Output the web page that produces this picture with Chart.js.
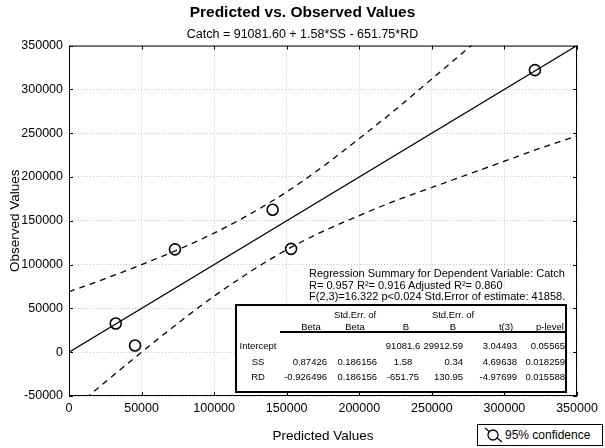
<!DOCTYPE html>
<html>
<head>
<meta charset="utf-8">
<title>Predicted vs. Observed Values</title>
<script src="https://cdn.jsdelivr.net/npm/chart.js@4.4.1/dist/chart.umd.min.js"></script>
<style>
  body { margin: 0; background: #fff; }
  #wrap { position: relative; width: 605px; height: 448px; font-family: "Liberation Sans", Arial, sans-serif; color: #000; }
  #chart { position: absolute; left: 0; top: 0; }
  .txt { position: absolute; white-space: nowrap; line-height: 12px; }
  #summary { position: absolute; left: 0; top: 0; font-size: 11px; }
  #table { position: absolute; left: 235px; top: 304px; width: 328px; height: 85px; border: 2px solid #000; background: #fff; font-size: 9.5px; }
  #rule { position: absolute; height: 2px; background: #000; }
  #legend { position: absolute; left: 477px; top: 424px; width: 124px; height: 20px; border: 1px solid #000; background: #fff; font-size: 12px; }
  #legend svg { position: absolute; left: 6px; top: 2px; }
  #legend span { position: absolute; left: 27px; top: 3px; line-height: 14px; }
</style>
</head>
<body>
<div id="wrap">
  <canvas id="chart" width="605" height="448"></canvas>
  <div id="summary"></div>
  <div id="table"><div id="rule"></div></div>
  <div id="legend">
    <svg width="20" height="16"><line x1="1" y1="1" x2="18" y2="15" stroke="#000" stroke-width="1.2"/><circle cx="9" cy="8" r="5" fill="#fff" stroke="#000" stroke-width="1.3"/></svg>
    <span>95% confidence</span>
  </div>
</div>
<script>
// observed vs predicted catch
const predicted = [32200, 45500, 73000, 140300, 153000, 321000];
const observed = [32800, 7700, 117400, 162600, 118000, 322000];

// fitted line
const fitX = [0, 350000];
const fitY = [0, 350000];

// 95% confidence band
const bandX = [0, 25000, 50000, 75000, 100000, 125000, 150000, 175000, 200000, 225000, 250000, 275000, 300000, 325000, 350000];
const upperBand = [69000, 84000, 100000, 117000, 136000, 158000, 183000, 212000, 244000, 277000, 312000, 347000, 382000, 417000, 453000];
const lowerBand = [-69000, -34000, 0, 33000, 64000, 92000, 117000, 138000, 156000, 173000, 188000, 203000, 218000, 233000, 247000];

const xTicks = [0, 50000, 100000, 150000, 200000, 250000, 300000, 350000];

// regression summary table
const summaryLines = [
  'Regression Summary for Dependent Variable: Catch',
  'R= 0.957 R\u00b2= 0.916 Adjusted R\u00b2= 0.860',
  'F(2,3)=16.322 p<0.024 Std.Error of estimate: 41858.'
];
const headTop = ['', 'Std.Err. of', '', 'Std.Err. of', '', ''];
const headBottom = ['Beta', 'Beta', 'B', 'B', 't(3)', 'p-level'];
const rowNames = ['Intercept', 'SS', 'RD'];
const betaCol = ['', '0.87426', '-0.926496'];
const seBetaCol = ['', '0.186156', '0.186156'];
const bCol = ['91081.6', '1.58', '-651.75'];
const seBCol = ['29912.59', '0.34', '130.95'];
const tCol = ['3.04493', '4.69638', '-4.97699'];
const pCol = ['0.05565', '0.018259', '0.015588'];

function pairs(xs, ys) {
  return xs.map((x, i) => ({ x: x, y: ys[i] }));
}

Chart.defaults.font.family = '"Liberation Sans", Arial, sans-serif';
Chart.defaults.color = '#000';

// full black frame with inward tick marks
const framePlugin = {
  id: 'frame',
  afterDatasetsDraw(chart) {
    const { ctx, chartArea: a, scales } = chart;
    ctx.save();
    ctx.strokeStyle = '#000';
    ctx.lineWidth = 1;
    ctx.strokeRect(a.left + 0.5, a.top + 0.5, a.width - 1, a.height - 1);
    ctx.beginPath();
    scales.x.ticks.forEach(t => {
      const x = Math.round(scales.x.getPixelForValue(t.value)) + 0.5;
      ctx.moveTo(x, a.bottom); ctx.lineTo(x, a.bottom - 4);
      ctx.moveTo(x, a.top); ctx.lineTo(x, a.top + 4);
    });
    scales.y.ticks.forEach(t => {
      const y = Math.round(scales.y.getPixelForValue(t.value)) + 0.5;
      ctx.moveTo(a.left, y); ctx.lineTo(a.left + 4, y);
      ctx.moveTo(a.right, y); ctx.lineTo(a.right - 4, y);
    });
    ctx.stroke();
    ctx.restore();
  }
};

new Chart(document.getElementById('chart'), {
  type: 'scatter',
  data: {
    datasets: [{
      label: 'Observed',
      data: pairs(predicted, observed),
      pointStyle: 'circle',
      pointRadius: 5.5,
      pointBorderWidth: 1.6,
      borderColor: '#000',
      backgroundColor: 'rgba(0,0,0,0)',
      showLine: false
    }, {
      label: 'Fit',
      data: pairs(fitX, fitY),
      showLine: true,
      pointRadius: 0,
      borderColor: '#000',
      borderWidth: 1.3,
      clip: 0
    }, {
      label: 'Upper 95%',
      data: pairs(bandX, upperBand),
      showLine: true,
      pointRadius: 0,
      borderColor: '#000',
      borderWidth: 1.3,
      borderDash: [6, 5],
      cubicInterpolationMode: 'monotone',
      clip: 0
    }, {
      label: 'Lower 95%',
      data: pairs(bandX, lowerBand),
      showLine: true,
      pointRadius: 0,
      borderColor: '#000',
      borderWidth: 1.3,
      borderDash: [6, 5],
      cubicInterpolationMode: 'monotone',
      clip: 0
    }]
  },
  options: {
    responsive: false,
    animation: false,
    layout: { padding: 0 },
    plugins: {
      legend: { display: false },
      tooltip: { enabled: false },
      title: {
        display: true,
        text: 'Predicted vs. Observed Values',
        font: { size: 15.5, weight: 'bold' },
        padding: { top: 3, bottom: 4 }
      },
      subtitle: {
        display: true,
        text: 'Catch = 91081.60 + 1.58*SS - 651.75*RD',
        font: { size: 12.5 },
        padding: { top: 1, bottom: 4 }
      }
    },
    scales: {
      x: {
        type: 'linear',
        min: 0,
        max: 350000,
        afterBuildTicks: s => { s.ticks = xTicks.map(v => ({ value: v })); },
        ticks: { padding: 5, font: { size: 12.5 }, callback: v => String(v) },
        grid: { color: '#c4c4c4', drawTicks: false },
        border: { display: false, dash: [1, 2] },
        title: { display: true, text: 'Predicted Values', font: { size: 13.5 }, padding: { top: 0, bottom: 4 } },
        afterFit: s => { s.height = 52; s.paddingRight = 28; }
      },
      y: {
        type: 'linear',
        min: -50000,
        max: 350000,
        ticks: { stepSize: 50000, padding: 6, font: { size: 12.5 }, callback: v => String(v) },
        grid: { color: '#c4c4c4', drawTicks: false },
        border: { display: false, dash: [1, 2] },
        title: { display: true, text: 'Observed Values', font: { size: 13.5 }, padding: { top: 7, bottom: 0 } },
        afterFit: s => { s.width = 69; }
      }
    }
  },
  plugins: [framePlugin]
});

// text overlay: summary and table
function put(parent, text, x, y, align, ox, oy) {
  const s = document.createElement('span');
  s.className = 'txt';
  s.textContent = text;
  s.style.left = (x - ox) + 'px';
  s.style.top = (y - oy - 6) + 'px';
  if (align === 'center') s.style.transform = 'translateX(-50%)';
  if (align === 'right') s.style.transform = 'translateX(-100%)';
  parent.appendChild(s);
}

const summary = document.getElementById('summary');
summaryLines.forEach((line, i) => put(summary, line, 309, 273 + i * 11.5, 'left', 0, 0));

const table = document.getElementById('table');
const ox = 237, oy = 306;
const rule = document.getElementById('rule');
rule.style.left = (280 - ox) + 'px';
rule.style.top = (331 - oy) + 'px';
rule.style.width = (567 - 280) + 'px';

const headX = [311, 355, 406, 453, 506, 550];
headTop.forEach((h, i) => { if (h) put(table, h, headX[i], 315, 'center', ox, oy); });
headBottom.forEach((h, i) => put(table, h, headX[i], 327, 'center', ox, oy));

const cols = [betaCol, seBetaCol, bCol, seBCol, tCol, pCol];
const colX = [327, 377, 403, 463, 517, 565];
const colAlign = ['right', 'right', 'center', 'right', 'right', 'right'];
const rowY = [346, 362, 377];
rowNames.forEach((name, r) => {
  put(table, name, 258, rowY[r], 'center', ox, oy);
  cols.forEach((col, c) => { if (col[r]) put(table, col[r], colX[c], rowY[r], colAlign[c], ox, oy); });
});
</script>
</body>
</html>
